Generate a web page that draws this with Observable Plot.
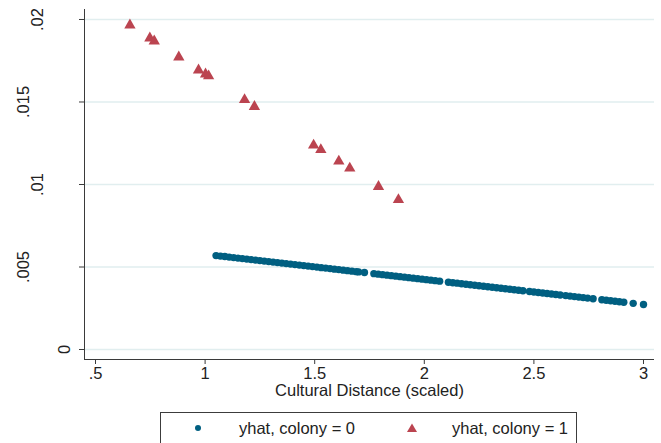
<!DOCTYPE html>
<html>
<head>
<meta charset="utf-8">
<script src="https://cdn.jsdelivr.net/npm/d3@7"></script>
<script src="https://cdn.jsdelivr.net/npm/@observablehq/plot@0.6"></script>
<style>
  html, body { margin: 0; padding: 0; background: #fff; }
  body { width: 661px; height: 443px; overflow: hidden; position: relative;
         font-family: "Liberation Sans", Arial, sans-serif; }
  #legend { position: absolute; left: 160px; top: 412px; width: 417px; height: 32px;
            border: 1px solid #3c3c3c; background: #fff; box-sizing: border-box; }
  .lg-item { position: absolute; top: 0; height: 30px; line-height: 30px; font-size: 16.5px; color: #222; white-space: nowrap; }
  .lg-sym { position: absolute; }
</style>
</head>
<body>
<div id="chart"></div>
<div id="legend"></div>
<script>
// ---- data ----
const seriesNames = ["yhat, colony = 0", "yhat, colony = 1"];

// colony = 1 (triangles)
const colony1X = [0.657, 0.748, 0.768, 0.880, 0.970, 1.002, 1.016, 1.180, 1.225, 1.495, 1.528, 1.610, 1.660, 1.791, 1.882];
const colony1Y = [0.01966, 0.01887, 0.01869, 0.01772, 0.01693, 0.01669, 0.01657, 0.01514, 0.01472, 0.01238, 0.01211, 0.01141, 0.01099, 0.00987, 0.00908];

// colony = 0 (dots)
const colony0X = [1.05, 1.07, 1.09, 1.11, 1.13, 1.15, 1.17, 1.19, 1.21, 1.23, 1.25, 1.27, 1.29, 1.31, 1.33, 1.35, 1.37, 1.39, 1.41, 1.43, 1.45, 1.47, 1.49, 1.51, 1.53, 1.55, 1.57, 1.59, 1.61, 1.63, 1.65, 1.67, 1.69, 1.70,
  1.727,
  1.77, 1.79, 1.81, 1.83, 1.85, 1.87, 1.89, 1.91, 1.93, 1.95, 1.97, 1.99, 2.01, 2.03, 2.05, 2.07,
  2.11, 2.13, 2.15, 2.17, 2.19, 2.21, 2.23, 2.25, 2.27, 2.29, 2.31, 2.33, 2.35, 2.37, 2.39, 2.41, 2.43, 2.45,
  2.48, 2.50, 2.52, 2.54, 2.56, 2.58, 2.60, 2.62,
  2.645, 2.665, 2.685, 2.705, 2.725, 2.745, 2.77,
  2.81, 2.83, 2.85, 2.87, 2.89, 2.91,
  2.953, 3.00];
const colony0Y = [0.005692, 0.005662, 0.005632, 0.005601, 0.005571, 0.005540, 0.005510, 0.005479, 0.005449, 0.005419, 0.005388, 0.005358, 0.005327, 0.005297, 0.005267, 0.005236, 0.005206, 0.005175, 0.005145, 0.005114, 0.005084, 0.005054, 0.005023, 0.004993, 0.004962, 0.004932, 0.004902, 0.004871, 0.004841, 0.004810, 0.004780, 0.004749, 0.004719, 0.004704,
  0.004663,
  0.004597, 0.004567, 0.004537, 0.004506, 0.004476, 0.004445, 0.004415, 0.004384, 0.004354, 0.004324, 0.004293, 0.004263, 0.004232, 0.004202, 0.004172, 0.004141,
  0.004080, 0.004050, 0.004020, 0.003989, 0.003959, 0.003928, 0.003898, 0.003867, 0.003837, 0.003807, 0.003776, 0.003746, 0.003715, 0.003685, 0.003654, 0.003624, 0.003594, 0.003563,
  0.003517, 0.003487, 0.003456, 0.003426, 0.003396, 0.003365, 0.003335, 0.003304,
  0.003266, 0.003236, 0.003206, 0.003175, 0.003145, 0.003114, 0.003076,
  0.003015, 0.002985, 0.002955, 0.002924, 0.002894, 0.002863,
  0.002798, 0.002727];

// ticks
const xTicks = [0.5, 1, 1.5, 2, 2.5, 3];
const xTickLabels = [".5", "1", "1.5", "2", "2.5", "3"];
const yTicks = [0, 0.005, 0.01, 0.015, 0.02];
const yTickLabels = ["0", ".005", ".01", ".015", ".02"];
const xTitle = "Cultural Distance (scaled)";

// ---- styles ----
const blue = "#005f81";
const red = "#bb4450";
const gridColor = "#e1eeef";
const axisColor = "#3a3a3a";
const textColor = "#222";
const fontSize = 16.5;

const xDomain = [0.4498, 3.0502];
const yDomain = [-0.000606, 0.020606];

const dots0 = colony0X.map((x, i) => ({x, y: colony0Y[i]}));
const dots1 = colony1X.map((x, i) => ({x, y: colony1Y[i]}));

const yLabelMarks = yTicks.map((t, i) => Plot.text([t], {
  y: d => d,
  frameAnchor: "left",
  textAnchor: "middle",
  lineAnchor: "middle",
  text: () => yTickLabels[i],
  rotate: -90,
  dx: -20 - 13.5 * (yTickLabels[i].length - 1),
  fontSize,
  fill: textColor
}));

const chart = Plot.plot({
  width: 661,
  height: 410,
  marginLeft: 84,
  marginRight: 7,
  marginTop: 9,
  marginBottom: 51,
  style: {background: "#fff", fontFamily: "'Liberation Sans', Arial, sans-serif", overflow: "visible"},
  x: {domain: xDomain, axis: null},
  y: {domain: yDomain, axis: null},
  marks: [
    Plot.ruleY(yTicks, {stroke: gridColor, strokeWidth: 1.5}),
    Plot.ruleX([xDomain[0]], {stroke: axisColor, strokeWidth: 1}),
    Plot.ruleY([yDomain[0]], {stroke: axisColor, strokeWidth: 1}),
    Plot.axisY({ticks: yTicks, tickSize: 5, tickFormat: () => "", label: null, stroke: axisColor}),
    Plot.axisX({ticks: xTicks, tickSize: 5, tickFormat: () => "", label: null, stroke: axisColor}),
    ...yLabelMarks,
    Plot.text(xTicks, {x: d => d, frameAnchor: "bottom", dy: 19, text: (d, i) => xTickLabels[i], fontSize, fill: textColor}),
    Plot.text([xTitle], {frameAnchor: "bottom", dy: 36, text: d => d, fontSize, fill: textColor}),
    Plot.dot(dots0, {x: "x", y: "y", r: 3.7, fill: blue, stroke: "none"}),
    Plot.dot(dots1, {x: "x", y: "y", r: 4.2, symbol: "triangle", fill: red, stroke: "none"})
  ]
});
document.getElementById("chart").appendChild(chart);

// legend
const legend = document.getElementById("legend");
const items = [
  {name: seriesNames[0], symLeft: 198 - 160, textLeft: 239 - 160, kind: "dot", color: blue},
  {name: seriesNames[1], symLeft: 412 - 160, textLeft: 452 - 160, kind: "tri", color: red}
];
for (const it of items) {
  const svgNS = "http://www.w3.org/2000/svg";
  const s = document.createElementNS(svgNS, "svg");
  s.setAttribute("width", 12); s.setAttribute("height", 12);
  s.setAttribute("class", "lg-sym");
  s.style.left = (it.symLeft - 6 - 1) + "px";
  s.style.top = (16 - 6 - 1) + "px";
  if (it.kind === "dot") {
    const c = document.createElementNS(svgNS, "circle");
    c.setAttribute("cx", 6); c.setAttribute("cy", 6); c.setAttribute("r", 3);
    c.setAttribute("fill", it.color);
    s.appendChild(c);
  } else {
    const p = document.createElementNS(svgNS, "polygon");
    p.setAttribute("points", "6,1.5 11,10 1,10");
    p.setAttribute("fill", it.color);
    s.appendChild(p);
  }
  legend.appendChild(s);
  const t = document.createElement("div");
  t.className = "lg-item";
  t.style.left = (it.textLeft - 1) + "px";
  t.textContent = it.name;
  legend.appendChild(t);
}
</script>
</body>
</html>
